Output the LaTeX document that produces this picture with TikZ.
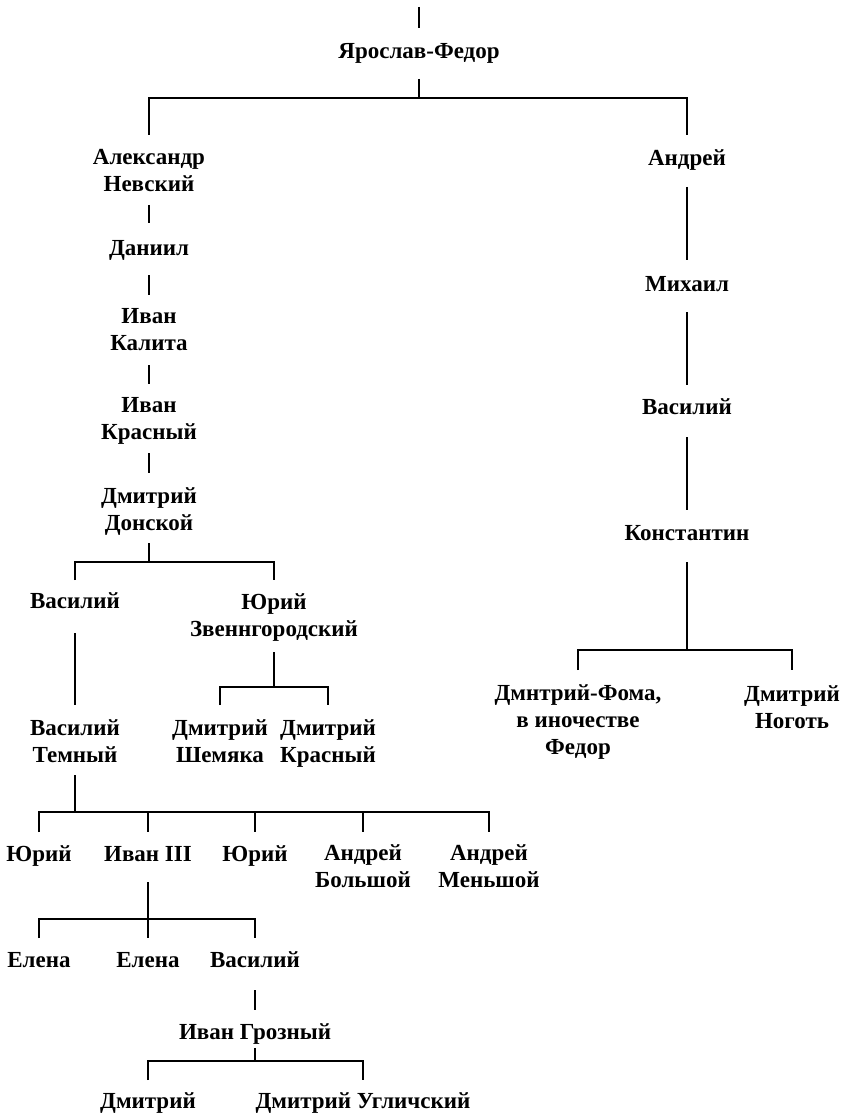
\documentclass[tikz,border=0pt]{standalone}
\usepackage{fontspec}
\setmainfont{Liberation Serif}
\newcommand\topstrut{\rule[-8.1pt]{0pt}{32pt}}
\tikzset{
  person/.style={align=center, inner sep=0pt, font=\bfseries\fontsize{23}{27}\selectfont,
    execute at begin node=\topstrut, execute at end node=\strut},
  link/.style={line width=1.5pt}
}
\begin{document}
\begin{tikzpicture}[x=1pt,y=-1pt]
  \useasboundingbox (0,0) rectangle (842,1115);
  % Names, left branch
  \node[person] (yf) at (419,51) {Ярослав-Федор};
  \node[person] (an) at (149,174) {Александр\\Невский};
  \node[person] (dan) at (149,248) {Даниил};
  \node[person] (ik) at (149,334) {Иван\\Калита};
  \node[person] (ikr) at (149,423) {Иван\\Красный};
  \node[person] (dd) at (149,513) {Дмитрий\\Донской};
  \node[person] (vas) at (75,601) {Василий};
  \node[person] (yz) at (274,619) {Юрий\\Звеннгородский};
  \node[person] (vt) at (75,745) {Василий\\Темный};
  \node[person] (dsh) at (220,745) {Дмитрий\\Шемяка};
  \node[person] (dkr) at (328,745) {Дмитрий\\Красный};
  \node[person] (yu1) at (39,854) {Юрий};
  \node[person] (i3) at (148,854) {Иван III};
  \node[person] (yu2) at (255,854) {Юрий};
  \node[person] (ab) at (363,870) {Андрей\\Большой};
  \node[person] (am) at (489,870) {Андрей\\Меньшой};
  \node[person] (el1) at (39,960) {Елена};
  \node[person] (el2) at (148,960) {Елена};
  \node[person] (vas2) at (255,960) {Василий};
  \node[person] (ig) at (255,1032) {Иван Грозный};
  \node[person] (dm) at (148,1101) {Дмитрий};
  \node[person] (du) at (363,1101) {Дмитрий Угличский};
  % Names, right branch
  \node[person] (and) at (687,158) {Андрей};
  \node[person] (mih) at (687,284) {Михаил};
  \node[person] (vs) at (687,407) {Василий};
  \node[person] (kon) at (687,533) {Константин};
  \node[person] (dfm) at (578,724) {Дмнтрий-Фома,\\в иночестве\\Федор};
  \node[person] (dn) at (792,711) {Дмитрий\\Ноготь};
  % Junctions
  \coordinate (top) at (419,7);
  \coordinate (jyf) at (419,98);
  \coordinate (jdd) at (149,562);
  \coordinate (jyz) at (274,687);
  \coordinate (jvt) at (75,812);
  \coordinate (ji3) at (148,919);
  \coordinate (jig) at (255,1061);
  \coordinate (jkon) at (687,650);
  % Top
  \draw[link, shorten >=23pt] (top) -- (yf.center);
  \draw[link, shorten <=28pt] (yf.center) -- (jyf);
  \draw[link, shorten <=39pt, shorten >=23pt] (an.center) |- (jyf) -| (and.center);
  % Left line
  \draw[link, shorten <=31pt, shorten >=25pt] (an.center) -- (dan.center);
  \draw[link, shorten <=27pt, shorten >=39pt] (dan.center) -- (ik.center);
  \draw[link, shorten <=31pt, shorten >=39pt] (ik.center) -- (ikr.center);
  \draw[link, shorten <=30pt, shorten >=40pt] (ikr.center) -- (dd.center);
  \draw[link, shorten <=30pt] (dd.center) -- (jdd);
  \draw[link, shorten <=21pt, shorten >=39pt] (vas.center) |- (jdd) -| (yz.center);
  \draw[link, shorten <=32pt, shorten >=40pt] (vas.center) -- (vt.center);
  \draw[link, shorten <=33pt] (yz.center) -- (jyz);
  \draw[link, shorten <=40pt, shorten >=40pt] (dsh.center) |- (jyz) -| (dkr.center);
  \draw[link, shorten <=30pt] (vt.center) -- (jvt);
  \draw[link, shorten <=22pt, shorten >=38pt] (yu1.center) |- (jvt) -| (am.center);
  \foreach \k in {i3,yu2} \draw[link, shorten >=22pt] (jvt -| \k) -- (\k.center);
  \draw[link, shorten >=38pt] (jvt -| ab) -- (ab.center);
  \draw[link, shorten <=28pt] (i3.center) -- (ji3);
  \draw[link, shorten <=22pt, shorten >=22pt] (el1.center) |- (ji3) -| (vas2.center);
  \draw[link, shorten >=22pt] (ji3) -- (el2.center);
  \draw[link, shorten <=30pt, shorten >=22pt] (vas2.center) -- (ig.center);
  \draw[link, shorten <=16pt] (ig.center) -- (jig);
  \draw[link, shorten <=21pt, shorten >=21pt] (dm.center) |- (jig) -| (du.center);
  % Right line
  \draw[link, shorten <=29pt, shorten >=24pt] (and.center) -- (mih.center);
  \draw[link, shorten <=28pt, shorten >=22pt] (mih.center) -- (vs.center);
  \draw[link, shorten <=30pt, shorten >=23pt] (vs.center) -- (kon.center);
  \draw[link, shorten <=29pt] (kon.center) -- (jkon);
  \draw[link, shorten <=54pt, shorten >=41pt] (dfm.center) |- (jkon) -| (dn.center);
\end{tikzpicture}
\end{document}
